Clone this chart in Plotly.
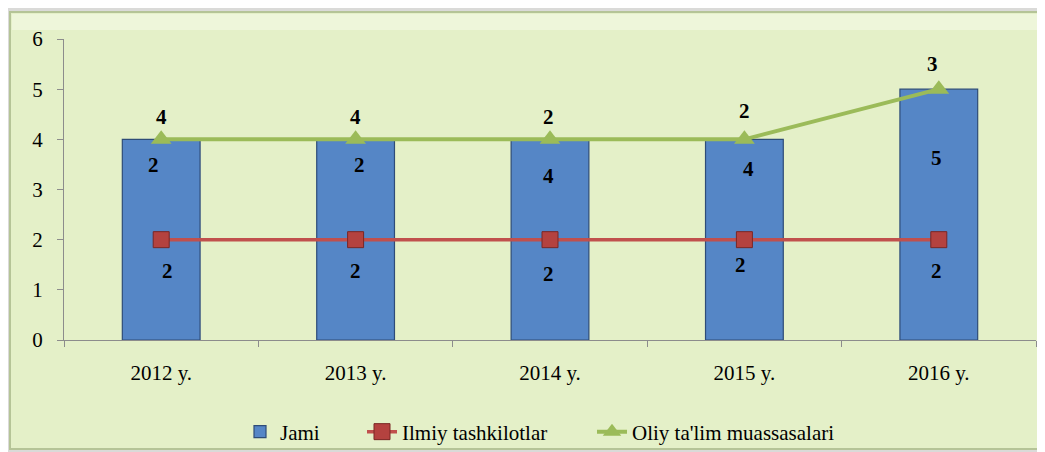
import plotly.graph_objects as go

years = ["2012 y.", "2013 y.", "2014 y.", "2015 y.", "2016 y."]
jami = [4, 4, 4, 4, 5]
ilmiy = [2, 2, 2, 2, 2]
oliy = [4, 4, 4, 4, 5]
jami_labels = ["2", "2", "4", "4", "5"]
ilmiy_labels = ["2", "2", "2", "2", "2"]
oliy_labels = ["4", "4", "2", "2", "3"]

FONT = "Liberation Serif, Times New Roman, serif"
FS = 21

fig = go.Figure()
fig.add_trace(go.Bar(
    x=years, y=jami, name="Jami", width=0.4, legend="legend",
    marker=dict(color="#5586C6", line=dict(color="#2E4C78", width=1.2)),
))
fig.add_trace(go.Scatter(
    x=years, y=ilmiy, name="Ilmiy tashkilotlar", mode="lines+markers", legend="legend2",
    line=dict(color="#C0504D", width=3.5),
    marker=dict(symbol="square", size=16, color="#B4423F", line=dict(color="#7A2624", width=1)),
))
fig.add_trace(go.Scatter(
    x=years, y=oliy, name="Oliy ta'lim muassasalari", mode="lines+markers", legend="legend3",
    line=dict(color="#9BBB59", width=4),
    marker=dict(symbol="triangle-up", size=18, color="#9BBB59"),
))

def add_labels(vals, labels, yshifts, xshifts):
    for i, yv in enumerate(vals):
        fig.add_annotation(x=years[i], y=yv, text="<b>%s</b>" % labels[i], showarrow=False,
                           yshift=yshifts[i], xshift=xshifts[i],
                           font=dict(family=FONT, size=FS, color="black"))

add_labels(jami, jami_labels, [-26, -26, -37, -30, -69], [-8, 4, -2, 4, -2])
add_labels(ilmiy, ilmiy_labels, [-31, -31, -34, -25, -31], [6, 0, -2, -4, -2])
add_labels(oliy, oliy_labels, [22, 22, 22, 28, 25], [0, 0, -2, 0, -6])

# screen geometry (figure is drawn 8px in from the page corner)
OFF = 8
W, H = 1045 - OFF, 452 - OFF
PX0, PX1, PY0, PY1 = 64, 1036, 39, 340
L, R, T, B = PX0 - OFF, 1045 - PX1, PY0 - OFF, H + OFF - PY1
pw, ph = PX1 - PX0, PY1 - PY0
def px(x):
    return (x - PX0) / pw
def py(y):
    return (PY1 - y) / ph
def cy(y):
    return (H + OFF - y) / H

fig.add_shape(type="rect", xref="paper", yref="paper",
              x0=px(10), x1=px(1041), y0=py(449), y1=py(12),
              fillcolor="#E4F0C8", line=dict(color="#B5C497", width=2), layer="below")
fig.add_shape(type="rect", xref="paper", yref="paper",
              x0=px(12), x1=px(1039), y0=py(30), y1=py(14),
              fillcolor="#EEF6DA", line=dict(width=0), layer="below")

leg_common = dict(orientation="h", xanchor="left", yref="container", y=cy(432),
                  yanchor="middle", bgcolor="rgba(0,0,0,0)", font=dict(family=FONT, size=FS))
text_starts = [280, 402, 632]

fig.update_layout(
    width=W, height=H,
    margin=dict(l=L, r=R, t=T, b=B),
    paper_bgcolor="#DADAD8",
    plot_bgcolor="#D9E4BE",
    font=dict(family=FONT, size=FS, color="black"),
    bargap=0.6,
    showlegend=True,
    legend=dict(x=px(text_starts[0] - 40), **leg_common),
    legend2=dict(x=px(text_starts[1] - 40), **leg_common),
    legend3=dict(x=px(text_starts[2] - 40), **leg_common),
    xaxis=dict(showgrid=False, showline=True, linecolor="#8C8C8C", linewidth=1,
               ticks="outside", tickson="boundaries", ticklen=6, tickcolor="#8C8C8C",
               ticklabelstandoff=14, tickfont=dict(family=FONT, size=FS)),
    yaxis=dict(range=[0, 6], dtick=1, showgrid=False, showline=True, linecolor="#8C8C8C",
               linewidth=1, ticks="outside", ticklen=6, tickcolor="#8C8C8C", zeroline=False,
               ticklabelstandoff=10, tickfont=dict(family=FONT, size=FS)),
)

fig.write_html("out.html")
